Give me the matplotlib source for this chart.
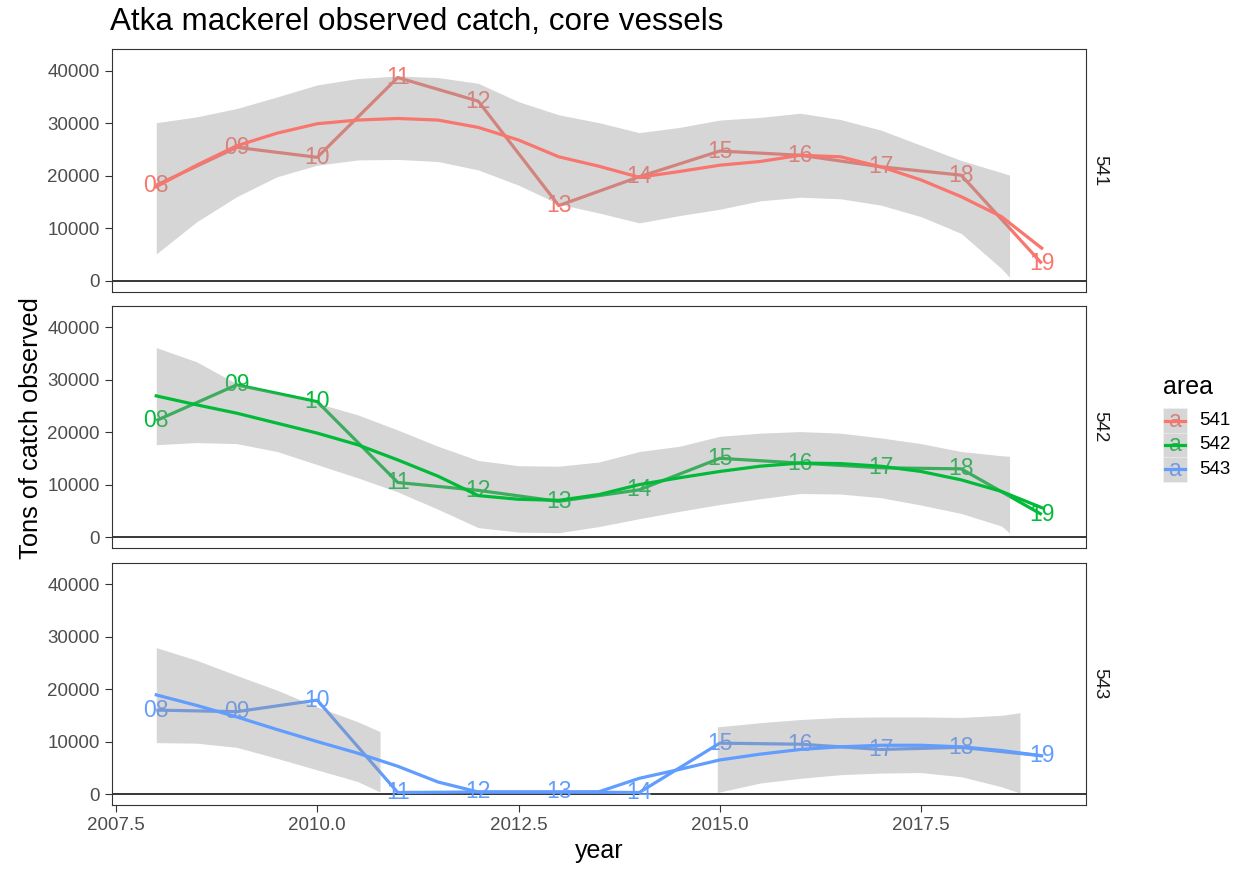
import numpy as np
import matplotlib.pyplot as plt
from matplotlib.patches import Rectangle
from matplotlib.lines import Line2D

plt.rcParams['font.family'] = ['Liberation Sans', 'DejaVu Sans']

# ---- data ----
areas = ['541', '542', '543']
colors = ['#F8766D', '#00BA38', '#619CFF']

years = [2008, 2009, 2010, 2011, 2012, 2013, 2014, 2015, 2016, 2017, 2018, 2019]
year_labels = ['08', '09', '10', '11', '12', '13', '14', '15', '16', '17', '18', '19']

catch_541 = [18200, 25400, 23500, 38700, 34200, 14300, 19800, 24700, 23900, 21700, 20100, 3300]
catch_542 = [22200, 29000, 25800, 10400, 8900, 6800, 9000, 15000, 14100, 13200, 13000, 4300]
catch_543 = [16000, 15700, 17900, 300, 400, 400, 300, 9700, 9500, 8500, 8900, 7300]

# loess fit, read every half year
smooth_x = [2008, 2008.5, 2009, 2009.5, 2010, 2010.5, 2011, 2011.5, 2012, 2012.5, 2013, 2013.5,
            2014, 2014.5, 2015, 2015.5, 2016, 2016.5, 2017, 2017.5, 2018, 2018.5, 2019]
smooth_541 = [17900, 22000, 25700, 28100, 29900, 30600, 30900, 30600, 29200, 26800, 23600, 21800,
              19700, 20800, 22000, 22700, 23900, 23600, 21700, 19200, 16000, 12200, 6200]
smooth_542 = [26900, 25200, 23600, 21700, 19800, 17600, 14700, 11600, 7900, 7200, 7000, 8100,
              10000, 11300, 12500, 13500, 14100, 14000, 13500, 12500, 10900, 8700, 5600]
smooth_543 = [18900, 16900, 14700, 12300, 10000, 7800, 5300, 2300, 400, 400, 400, 450,
              3000, 4700, 6500, 7600, 8500, 9000, 9300, 9300, 9000, 8300, 7300]

# confidence bands (dropped by ggplot where the lower bound falls below 0)
band_x = [2008, 2008.5, 2009, 2009.5, 2010, 2010.5, 2011, 2011.5, 2012, 2012.5, 2013, 2013.5,
          2014, 2014.5, 2015, 2015.5, 2016, 2016.5, 2017, 2017.5, 2018, 2018.5, 2018.6]
band_hi_541 = [30100, 31200, 32800, 35000, 37300, 38500, 39000, 38700, 37600, 34100, 31600, 30100,
               28200, 29200, 30600, 31100, 31900, 30700, 28700, 25800, 22900, 20600, 20100]
band_lo_541 = [5100, 11200, 16000, 19800, 22000, 23000, 23100, 22700, 21100, 18200, 14600, 12900,
               11000, 12400, 13600, 15200, 15900, 15600, 14400, 12200, 9000, 2300, 650]
band_hi_542 = [36100, 33400, 29200, 27400, 25500, 23300, 20400, 17300, 14600, 13600, 13500, 14300,
               16300, 17300, 19200, 19800, 20100, 19800, 18900, 17800, 16300, 15500, 15400]
band_lo_542 = [17600, 18000, 17800, 16300, 13800, 11300, 8600, 5300, 1800, 950, 830, 2000,
               3500, 4900, 6200, 7300, 8300, 8200, 7500, 6100, 4500, 2100, 800]

band_x_543a = [2008, 2008.5, 2009, 2009.5, 2010, 2010.5, 2010.78]
band_hi_543a = [27900, 25500, 22600, 19800, 16600, 13800, 11900]
band_lo_543a = [9800, 9700, 8900, 6800, 4600, 2400, 400]
band_x_543b = [2014.97, 2015.5, 2016, 2016.5, 2017, 2017.5, 2018, 2018.5, 2018.73]
band_hi_543b = [12800, 13600, 14200, 14600, 14700, 14700, 14600, 15000, 15500]
band_lo_543b = [300, 2100, 3000, 3700, 4000, 4100, 3300, 1400, 200]

y_ticks = [0, 10000, 20000, 30000, 40000]
x_ticks = [2007.5, 2010.0, 2012.5, 2015.0, 2017.5]

catches = [catch_541, catch_542, catch_543]
smooths = [smooth_541, smooth_542, smooth_543]
bands = [
    [(band_x, band_lo_541, band_hi_541)],
    [(band_x, band_lo_542, band_hi_542)],
    [(band_x_543a, band_lo_543a, band_hi_543a), (band_x_543b, band_lo_543b, band_hi_543b)],
]

# ---- layout (pixels of the 1244x869 reference) ----
W, H = 1244, 869
fig = plt.figure(figsize=(12.44, 8.69), dpi=100)


def fx(px):
    return px / W


def fy(py):
    return 1 - py / H


panel_left, panel_right = 112, 1086
panel_tops = [49.3, 305.7, 562.7]
panel_h = 242.4
ribbon_grey = '#999999'

for i, area in enumerate(areas):
    top = panel_tops[i]
    ax = fig.add_axes([fx(panel_left), fy(top + panel_h), fx(panel_right - panel_left), panel_h / H])
    c = colors[i]

    ax.axhline(0, color='black', lw=1.1, zorder=1)
    ax.plot(years, catches[i], color=c, lw=2.3, zorder=2, solid_capstyle='butt')
    for x, y, lab in zip(years, catches[i], year_labels):
        ax.text(x, y, lab, color=c, fontsize=16.5, ha='center', va='center', zorder=2)
    for bx, lo, hi in bands[i]:
        ax.fill_between(bx, lo, hi, color=ribbon_grey, alpha=0.4, lw=0, zorder=3)
    ax.plot(smooth_x, smooths[i], color=c, lw=2.3, zorder=4)

    ax.set_xlim(2007.45, 2019.55)
    ax.set_ylim(-2100, 44080)
    ax.set_yticks(y_ticks)
    ax.set_yticklabels([str(v) for v in y_ticks])
    ax.set_xticks(x_ticks)
    if i == 2:
        ax.set_xticklabels([f"{v:.1f}" for v in x_ticks])
        ax.tick_params(axis='x', length=4.8, width=0.8, color='#333333',
                       labelcolor='#4D4D4D', labelsize=13.5, pad=3.5)
    else:
        ax.tick_params(axis='x', bottom=False, labelbottom=False)
    ax.tick_params(axis='y', length=4.8, width=0.8, color='#333333',
                   labelcolor='#4D4D4D', labelsize=13.5, pad=4)
    for s in ax.spines.values():
        s.set_color('#333333')
        s.set_linewidth(0.8)

    # facet strip label on the right
    fig.text(fx(1100), fy(top + panel_h / 2), area, rotation=-90, ha='center', va='center',
             fontsize=13.5, color='#1A1A1A')

# titles
fig.text(fx(110), fy(30), 'Atka mackerel observed catch, core vessels', fontsize=22.6,
         ha='left', va='baseline', color='black')
fig.text(fx(599), fy(858), 'year', fontsize=18, ha='center', va='baseline')
fig.text(fx(31), fy(428), 'Tons of catch observed', fontsize=18.3, rotation=90,
         ha='center', va='center')

# legend
fig.text(fx(1163), fy(394), 'area', fontsize=18, ha='left', va='baseline')
key_l, key_r = 1162.7, 1187.3
key_top, key_h = 408.3, 24.4
for i, area in enumerate(areas):
    t = key_top + i * key_h
    cy = t + key_h / 2
    fig.text(fx((key_l + key_r) / 2), fy(cy), 'a', color=colors[i], fontsize=16.5,
             ha='center', va='center', zorder=1)
    fig.add_artist(Rectangle((fx(key_l), fy(t + key_h)), fx(key_r - key_l), key_h / H,
                             transform=fig.transFigure, facecolor=ribbon_grey, alpha=0.4,
                             edgecolor='white', lw=0.5, zorder=2))
    fig.add_artist(Line2D([fx(key_l + 2.5), fx(key_r - 2.5)], [fy(cy), fy(cy)],
                          transform=fig.transFigure, color=colors[i], lw=2.3, zorder=3))
    fig.text(fx(1199), fy(cy), area, fontsize=13.5, ha='left', va='center', color='black')

fig.savefig('out.png', dpi=100)
